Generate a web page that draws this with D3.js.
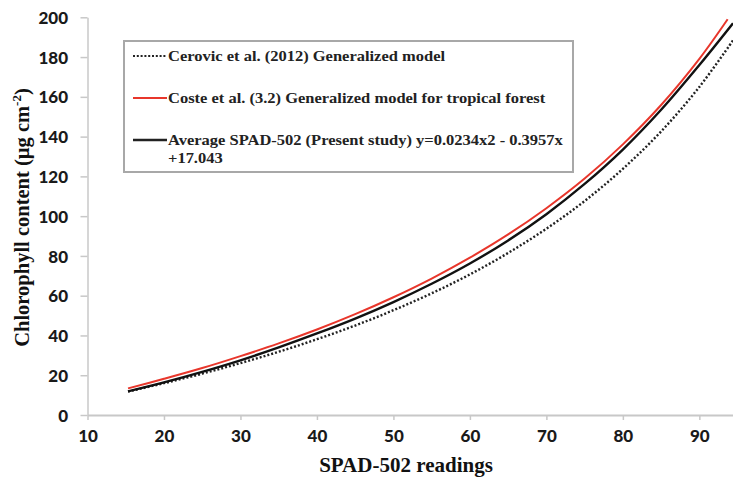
<!DOCTYPE html>
<html><head><meta charset="utf-8">
<script src="https://cdn.jsdelivr.net/npm/d3@7"></script>
<style>
html,body{margin:0;padding:0;background:#fff;}
svg{display:block;}
</style>
</head><body>
<svg id="c" width="733" height="479"></svg>
<script>
// ---- data ----
const spad = [15.3, 20, 25, 30, 35, 40, 45, 50, 55, 60, 65, 70, 75, 80, 85, 90, 94.4];
const cerovic = [11.8, 16.0, 20.8, 26.1, 31.8, 38.1, 45.0, 52.7, 61.2, 70.7, 81.5, 93.7, 107.6, 123.8, 142.6, 165.0, 188.4];
const costeX = [15.3, 20, 25, 30, 35, 40, 45, 50, 55, 60, 65, 70, 75, 80, 85, 90, 93.7];
const coste = [13.4, 18.2, 23.6, 29.6, 36.0, 43.0, 50.7, 59.2, 68.6, 79.1, 90.8, 104.0, 118.9, 136.1, 155.9, 179.1, 199.0];
const present = [11.9, 16.4, 21.7, 27.5, 34.0, 41.0, 48.5, 56.8, 66.0, 76.2, 87.8, 101.0, 116.2, 133.5, 153.5, 176.0, 197.0];
const xTicks = [10, 20, 30, 40, 50, 60, 70, 80, 90];
const yTicks = [0, 20, 40, 60, 80, 100, 120, 140, 160, 180, 200];
const legendLabels = [
  "Cerovic et al. (2012) Generalized model",
  "Coste et al. (3.2) Generalized model for tropical forest",
  "Average SPAD-502 (Present study) y=0.0234x2 - 0.3957x",
  "+17.043"
];

const svg = d3.select("#c");
const x = d3.scaleLinear().domain([10, 94.4]).range([87.5, 733]);
const y = d3.scaleLinear().domain([0, 200]).range([415, 17.3]);

const axisColor = "#c8c8c8";
const tickFont = "Lato, 'Liberation Sans', sans-serif";
const serif = "'Liberation Serif', 'Times New Roman', serif";

// y axis
const gy = svg.append("g").attr("transform", `translate(${x(10)},0)`)
  .call(d3.axisLeft(y).tickValues(yTicks).tickSize(7).tickSizeOuter(0).tickPadding(12.5));
gy.select(".domain").attr("stroke", axisColor).attr("stroke-width", 1.5);
gy.selectAll(".tick line").attr("stroke", axisColor).attr("stroke-width", 1.5);
gy.selectAll(".tick text").attr("font-family", tickFont).attr("font-weight", 900)
  .attr("font-size", 17).attr("fill", "#1a1a1a").attr("dy", "0.36em");

// x axis
const gx = svg.append("g").attr("transform", `translate(0,${y(0)})`)
  .call(d3.axisBottom(x).tickValues(xTicks).tickSize(5).tickSizeOuter(0).tickPadding(8));
gx.select(".domain").attr("stroke", axisColor).attr("stroke-width", 2);
gx.selectAll(".tick line").attr("stroke", axisColor).attr("stroke-width", 1.5);
gx.selectAll(".tick text").attr("font-family", tickFont).attr("font-weight", 900)
  .attr("font-size", 17).attr("fill", "#1a1a1a").attr("dy", "0.85em");

// axis titles
svg.append("text").attr("x", 406).attr("y", 472).attr("text-anchor", "middle")
  .attr("font-family", serif).attr("font-weight", 700).attr("font-size", 21).attr("fill", "#111")
  .text("SPAD-502 readings");
const yt = svg.append("text").attr("transform", "translate(29,217.5) rotate(-90)")
  .attr("text-anchor", "middle")
  .attr("font-family", serif).attr("font-weight", 700).attr("font-size", 20.5).attr("fill", "#111");
yt.append("tspan").text("Chlorophyll content (µg cm");
yt.append("tspan").attr("dy", -8).attr("font-size", 13).text("-2");
yt.append("tspan").attr("dy", 8).text(")");

// curves
const line = d3.line().curve(d3.curveCatmullRom.alpha(0.5));
const ptsCer = spad.map((d, i) => [x(d), y(cerovic[i])]);
const ptsCos = costeX.map((d, i) => [x(d), y(coste[i])]);
const ptsPre = spad.map((d, i) => [x(d), y(present[i])]);

svg.append("path").attr("d", line(ptsCer)).attr("fill", "none")
  .attr("stroke", "#222").attr("stroke-width", 2.4).attr("stroke-dasharray", "2,2");
svg.append("path").attr("d", line(ptsCos)).attr("fill", "none")
  .attr("stroke", "#e8362b").attr("stroke-width", 2);
svg.append("path").attr("d", line(ptsPre)).attr("fill", "none")
  .attr("stroke", "#111").attr("stroke-width", 2.4);

// legend
const lg = svg.append("g");
lg.append("rect").attr("x", 124).attr("y", 41).attr("width", 449).attr("height", 131)
  .attr("fill", "#fff").attr("stroke", "#a8a8a8").attr("stroke-width", 2);
const rows = [
  {y: 56, stroke: "#222", dash: "2,1.8", w: 2},
  {y: 98, stroke: "#e8362b", dash: null, w: 2},
  {y: 140, stroke: "#222", dash: null, w: 2.4}
];
function legendText(str, yy) {
  lg.append("text").attr("transform", `translate(168,${yy}) scale(1.1,1)`)
    .attr("font-family", serif).attr("font-weight", 700).attr("font-size", 15).attr("fill", "#222")
    .text(str);
}
rows.forEach((r, i) => {
  const l = lg.append("line").attr("x1", 133).attr("x2", 167).attr("y1", r.y).attr("y2", r.y)
    .attr("stroke", r.stroke).attr("stroke-width", r.w);
  if (r.dash) l.attr("stroke-dasharray", r.dash);
  legendText(legendLabels[i], r.y + 4.8);
});
legendText(legendLabels[3], 162.8);
</script>
</body></html>
